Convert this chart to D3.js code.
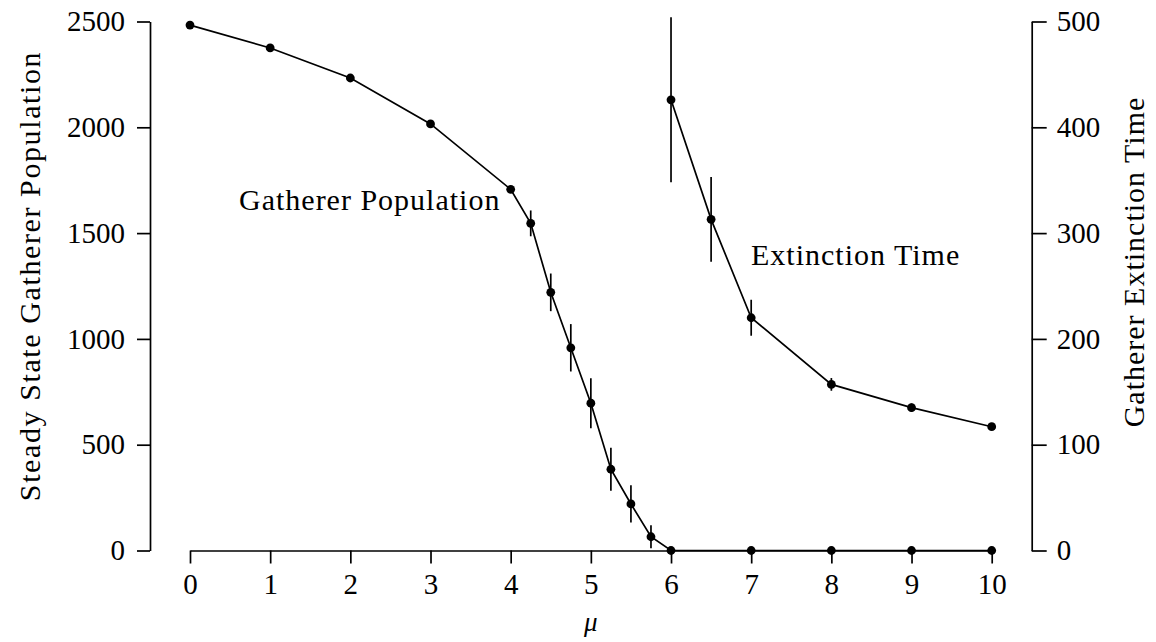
<!DOCTYPE html>
<html>
<head>
<meta charset="utf-8">
<script src="https://cdn.jsdelivr.net/npm/d3@7"></script>
<style>
  html, body { margin: 0; padding: 0; background: #fff; }
  svg { display: block; }
  text { font-family: "Liberation Serif", "Times New Roman", serif; fill: #000; }
</style>
</head>
<body>
<svg id="chart" width="1156" height="642"></svg>
<script>
// ---- data ----
const muPop = [0, 1, 2, 3, 4, 4.25, 4.5, 4.75, 5, 5.25, 5.5, 5.75, 6, 7, 8, 9, 10];
const popValues = [2483, 2375, 2233, 2016, 1707, 1546, 1220, 958, 696, 384, 220, 65, 0, 0, 0, 0, 0];
const popErrors = [0, 0, 0, 0, 0, 61, 89, 112, 118, 102, 88, 54, 0, 0, 0, 0, 0];

const muExt = [6, 6.5, 7, 8, 9, 10];
const extValues = [426, 313, 220, 157, 135, 117];
const extErrors = [78, 40, 17, 6, 4, 0];

const xTicks = [0, 1, 2, 3, 4, 5, 6, 7, 8, 9, 10];
const leftTicks = [0, 500, 1000, 1500, 2000, 2500];
const rightTicks = [0, 100, 200, 300, 400, 500];

// ---- layout ----
const svg = d3.select("#chart");
const x = d3.scaleLinear().domain([0, 10]).range([190, 991.7]);
const yL = d3.scaleLinear().domain([0, 2500]).range([550.5, 21.5]);
const yR = d3.scaleLinear().domain([0, 500]).range([550.5, 21.5]);

function styleAxis(g, fs) {
  g.selectAll("path.domain").attr("stroke", "#000").attr("stroke-width", 1.7);
  g.selectAll(".tick line").attr("stroke", "#000").attr("stroke-width", 1.7);
  g.selectAll(".tick text").style("font-size", fs + "px").style("font-family", "'Liberation Serif', serif").attr("fill", "#000");
}

const gx = svg.append("g").attr("transform", "translate(0,550.5)")
  .call(d3.axisBottom(x).tickValues(xTicks).tickFormat(d3.format("d")).tickSize(13).tickSizeOuter(0).tickPadding(10));
styleAxis(gx, 29);

const gl = svg.append("g").attr("transform", "translate(150,0)")
  .call(d3.axisLeft(yL).tickValues(leftTicks).tickFormat(d3.format("d")).tickSize(13).tickSizeOuter(0).tickPadding(12));
styleAxis(gl, 29);

const gr = svg.append("g").attr("transform", "translate(1031.7,0)")
  .call(d3.axisRight(yR).tickValues(rightTicks).tickFormat(d3.format("d")).tickSize(15).tickSizeOuter(0).tickPadding(10));
styleAxis(gr, 29);

// ---- series ----
const popData = muPop.map((m, i) => ({ m, v: popValues[i], e: popErrors[i] }));
const extData = muExt.map((m, i) => ({ m, v: extValues[i], e: extErrors[i] }));

function drawSeries(data, y) {
  const g = svg.append("g");
  g.append("path")
    .datum(data)
    .attr("fill", "none")
    .attr("stroke", "#000")
    .attr("stroke-width", 1.7)
    .attr("d", d3.line().x(d => x(d.m)).y(d => y(d.v)));
  g.selectAll("line.err")
    .data(data.filter(d => d.e > 0))
    .join("line")
    .attr("class", "err")
    .attr("x1", d => x(d.m)).attr("x2", d => x(d.m))
    .attr("y1", d => y(d.v - d.e)).attr("y2", d => y(d.v + d.e))
    .attr("stroke", "#000").attr("stroke-width", 1.7);
  g.selectAll("circle")
    .data(data)
    .join("circle")
    .attr("cx", d => x(d.m)).attr("cy", d => y(d.v))
    .attr("r", 4.4).attr("fill", "#000");
}
drawSeries(popData, yL);
drawSeries(extData, yR);

// ---- labels ----
svg.append("text").attr("x", 239).attr("y", 210)
  .style("font-size", "30px").style("letter-spacing", "1px")
  .text("Gatherer Population");
svg.append("text").attr("x", 751).attr("y", 265)
  .style("font-size", "30px").style("letter-spacing", "1px")
  .text("Extinction Time");

svg.append("text").attr("x", x(5)).attr("y", 631)
  .attr("text-anchor", "middle")
  .style("font-size", "27px").style("font-style", "italic")
  .text("μ");

svg.append("text")
  .attr("transform", "translate(40,276) rotate(-90)")
  .attr("text-anchor", "middle")
  .style("font-size", "30px").style("letter-spacing", "1.6px")
  .text("Steady State Gatherer Population");

svg.append("text")
  .attr("transform", "translate(1144,262) rotate(-90)")
  .attr("text-anchor", "middle")
  .style("font-size", "30px").style("letter-spacing", "1px")
  .text("Gatherer Extinction Time");
</script>
</body>
</html>
